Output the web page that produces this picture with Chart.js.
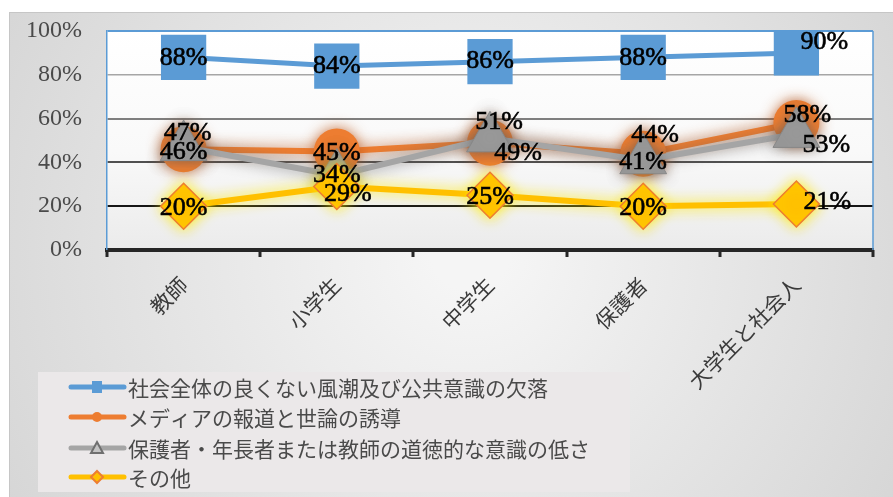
<!DOCTYPE html>
<html lang="ja">
<head>
<meta charset="utf-8">
<title>意識調査</title>
<script src="https://cdn.jsdelivr.net/npm/chart.js@4.4.1/dist/chart.umd.min.js"></script>
<style>
  html, body { margin: 0; padding: 0; background: #fff; }
  #wrap { width: 893px; height: 497px; position: relative; }
</style>
</head>
<body>
<div id="wrap"><canvas id="chart"></canvas></div>
<script>
// --- Data ---
const categories = ['教師', '小学生', '中学生', '保護者', '大学生と社会人'];
const seriesNames = [
  '社会全体の良くない風潮及び公共意識の欠落',
  'メディアの報道と世論の誘導',
  '保護者・年長者または教師の道徳的な意識の低さ',
  'その他'
];
const societyValues = [88, 84, 86, 88, 90];
const mediaValues = [46, 45, 49, 44, 58];
const elderValues = [47, 34, 51, 41, 53];
const otherValues = [20, 29, 25, 20, 21];
const yTickValues = [0, 20, 40, 60, 80, 100];

// --- Styles ---
const JP_FONT = "'Noto Sans CJK JP', 'Noto Sans', sans-serif";
const SERIF_FONT = "'Liberation Serif', 'DejaVu Serif', serif";
const BLUE = '#5b9bd5';
const ORANGE = '#ed7d31';
const GRAY = '#a5a5a5';
const YELLOW = '#ffc000';

// label shift (dx, dy) from each point, per series
const labelShift = [
  [[0, 1], [0, 0], [0, 0], [0, 1], [28, -11]],
  [[0, 3], [0, 2], [28, 10], [12, -18], [11, -8]],
  [[4, -14], [0, 0], [9, -16], [0, 2], [30, 11]],
  [[0, 2], [11, 8], [0, 2], [0, 2], [31, -2]]
];

function gridColor(v) {
  if (v === 100) return BLUE;
  if (v === 80) return '#a6a6a6';
  if (v === 60) return '#7f7f7f';
  if (v === 40) return '#505050';
  if (v === 20) return '#161616';
  return 'rgba(0,0,0,0)';
}

// background, outer box, plot area, right border and x tick marks
const backgroundPlugin = {
  id: 'background',
  beforeDraw(chart) {
    const ctx = chart.ctx;
    const w = chart.width, h = chart.height;
    const a = chart.chartArea;
    ctx.save();
    ctx.fillStyle = '#ffffff';
    ctx.fillRect(0, 0, w, h);
    const g = ctx.createRadialGradient(470, 250, 40, 450, 250, 560);
    g.addColorStop(0, '#f5f5f5');
    g.addColorStop(1, '#d3d3d3');
    ctx.fillStyle = g;
    ctx.fillRect(9, 12, w - 9, h - 12);
    ctx.strokeStyle = '#c6c6c6';
    ctx.lineWidth = 1;
    ctx.strokeRect(9.5, 12.5, w, h);
    const pg = ctx.createLinearGradient(0, a.top, 0, a.bottom);
    pg.addColorStop(0, '#ffffff');
    pg.addColorStop(0.55, '#f9f9f9');
    pg.addColorStop(1, '#ebebeb');
    ctx.fillStyle = pg;
    ctx.fillRect(a.left, a.top, a.right - a.left, a.bottom - a.top);
    ctx.restore();
  },
  beforeDatasetsDraw(chart) {
    const ctx = chart.ctx;
    const a = chart.chartArea;
    const xs = chart.scales.x;
    ctx.save();
    ctx.strokeStyle = BLUE;
    ctx.lineWidth = 1.5;
    ctx.beginPath();
    ctx.moveTo(a.right, a.top);
    ctx.lineTo(a.right, a.bottom);
    ctx.stroke();
    // tick marks between categories
    ctx.strokeStyle = '#262626';
    ctx.lineWidth = 3;
    ctx.beginPath();
    for (let i = 0; i <= categories.length; i++) {
      const px = Math.round(xs.getPixelForValue(i - 0.5));
      ctx.moveTo(px, a.bottom);
      ctx.lineTo(px, a.bottom + 7);
    }
    ctx.stroke();
    ctx.restore();
  }
};

// soft glow behind some series
const glowPlugin = {
  id: 'glow',
  beforeDatasetDraw(chart, args) {
    const ds = chart.data.datasets[args.index];
    if (!ds.glowColor) return;
    chart.ctx.save();
    chart.ctx.shadowColor = ds.glowColor;
    chart.ctx.shadowBlur = 14;
  },
  afterDatasetDraw(chart, args) {
    const ds = chart.data.datasets[args.index];
    if (!ds.glowColor) return;
    chart.ctx.restore();
  }
};

// value labels
const valueLabelPlugin = {
  id: 'valueLabels',
  afterDatasetsDraw(chart) {
    const ctx = chart.ctx;
    ctx.save();
    ctx.font = '26px ' + SERIF_FONT;
    ctx.fillStyle = '#000';
    ctx.strokeStyle = '#000';
    ctx.lineWidth = 0.6;
    ctx.textAlign = 'center';
    ctx.textBaseline = 'middle';
    chart.data.datasets.forEach((ds, i) => {
      const meta = chart.getDatasetMeta(i);
      meta.data.forEach((pt, j) => {
        const s = labelShift[i][j];
        const t = ds.data[j] + '%';
        ctx.fillText(t, pt.x + s[0], pt.y + s[1]);
        ctx.strokeText(t, pt.x + s[0], pt.y + s[1]);
      });
    });
    ctx.restore();
  }
};

// legend box in the lower left
function drawLegendMarker(ctx, style, x, y, color) {
  ctx.beginPath();
  if (style === 'rect') {
    ctx.fillStyle = color;
    ctx.fillRect(x - 5, y - 6, 10, 12);
  } else if (style === 'circle') {
    ctx.fillStyle = color;
    ctx.arc(x, y, 5, 0, Math.PI * 2);
    ctx.fill();
  } else if (style === 'triangle') {
    ctx.moveTo(x, y - 6);
    ctx.lineTo(x + 6, y + 5);
    ctx.lineTo(x - 6, y + 5);
    ctx.closePath();
    ctx.fillStyle = '#c4c4c4';
    ctx.fill();
    ctx.strokeStyle = '#6f6f6f';
    ctx.lineWidth = 2;
    ctx.stroke();
  } else {
    ctx.moveTo(x, y - 6);
    ctx.lineTo(x + 6, y);
    ctx.lineTo(x, y + 6);
    ctx.lineTo(x - 6, y);
    ctx.closePath();
    ctx.fillStyle = YELLOW;
    ctx.fill();
    ctx.strokeStyle = ORANGE;
    ctx.lineWidth = 2;
    ctx.stroke();
  }
}

const legendPlugin = {
  id: 'boxLegend',
  afterDraw(chart) {
    const ctx = chart.ctx;
    ctx.save();
    ctx.fillStyle = '#ebe8e9';
    ctx.fillRect(38, 372, 592, 120);
    ctx.font = '21px ' + JP_FONT;
    ctx.textBaseline = 'middle';
    ctx.textAlign = 'left';
    const rows = [387, 417, 448, 477];
    chart.data.datasets.forEach((ds, i) => {
      const y = rows[i];
      ctx.strokeStyle = ds.borderColor;
      ctx.lineWidth = 5;
      ctx.lineCap = 'round';
      ctx.beginPath();
      ctx.moveTo(71, y);
      ctx.lineTo(124, y);
      ctx.stroke();
      drawLegendMarker(ctx, ds.pointStyle, 97, y, ds.borderColor);
      ctx.fillStyle = '#4a4a4a';
      ctx.fillText(ds.label, 128, y + 1);
    });
    ctx.restore();
  }
};

// --- Chart ---
const ctx = document.getElementById('chart').getContext('2d');
const chart = new Chart(ctx, {
  type: 'line',
  data: {
    labels: categories,
    datasets: [
      {
        label: seriesNames[0],
        data: societyValues,
        borderColor: BLUE,
        borderWidth: 5,
        pointStyle: 'rect',
        pointRadius: 32,
        pointHoverRadius: 32,
        pointBackgroundColor: BLUE,
        pointBorderWidth: 0,
        order: 4,
        clip: false
      },
      {
        label: seriesNames[1],
        data: mediaValues,
        borderColor: ORANGE,
        borderWidth: 6,
        pointStyle: 'circle',
        pointRadius: 23,
        pointHoverRadius: 23,
        pointBackgroundColor: ORANGE,
        pointBorderWidth: 0,
        glowColor: 'rgba(190, 90, 30, 0.85)',
        order: 3,
        clip: false
      },
      {
        label: seriesNames[2],
        data: elderValues,
        borderColor: GRAY,
        borderWidth: 6,
        pointStyle: 'triangle',
        pointRadius: 27,
        pointHoverRadius: 27,
        pointBackgroundColor: '#9a9a9a',
        pointBorderColor: '#888888',
        pointBorderWidth: 1,
        glowColor: 'rgba(90, 90, 90, 0.7)',
        order: 2,
        clip: false
      },
      {
        label: seriesNames[3],
        data: otherValues,
        borderColor: YELLOW,
        borderWidth: 6,
        pointStyle: 'rectRot',
        pointRadius: 23,
        pointHoverRadius: 23,
        pointBackgroundColor: YELLOW,
        pointBorderColor: ORANGE,
        pointBorderWidth: 1.5,
        glowColor: 'rgba(255, 235, 0, 0.95)',
        order: 1,
        clip: false
      }
    ]
  },
  options: {
    responsive: true,
    maintainAspectRatio: false,
    animation: false,
    events: [],
    layout: { autoPadding: false, padding: { left: 0, right: 20, top: 31, bottom: 0 } },
    elements: { line: { tension: 0 } },
    scales: {
      x: {
        offset: true,
        grid: {
          offset: true,
          drawOnChartArea: false,
          drawTicks: true,
          tickLength: 22,
          tickColor: 'rgba(0,0,0,0)'
        },
        border: { display: true, color: '#262626', width: 4 },
        ticks: {
          autoSkip: false,
          maxRotation: 45,
          minRotation: 45,
          padding: 0,
          color: '#3a3a3a',
          font: { family: JP_FONT, size: 21 }
        },
        afterFit(scale) { scale.height = 247; }
      },
      y: {
        min: 0,
        max: 100,
        afterBuildTicks(scale) {
          scale.ticks = yTickValues.map(v => ({ value: v }));
        },
        ticks: {
          padding: 4,
          color: '#4a4a4a',
          font: { family: SERIF_FONT, size: 24 },
          callback: v => v + '%'
        },
        grid: {
          drawTicks: true,
          tickLength: 21,
          tickColor: 'rgba(0,0,0,0)',
          color: c => gridColor(c.tick ? c.tick.value : -1),
          lineWidth: c => (c.tick && c.tick.value === 80) ? 1.5 : 2
        },
        border: { display: true, color: BLUE, width: 1.5 },
        afterFit(scale) { scale.width = 107; }
      }
    },
    plugins: {
      legend: { display: false },
      tooltip: { enabled: false }
    }
  },
  plugins: [backgroundPlugin, glowPlugin, valueLabelPlugin, legendPlugin]
});
</script>
</body>
</html>
